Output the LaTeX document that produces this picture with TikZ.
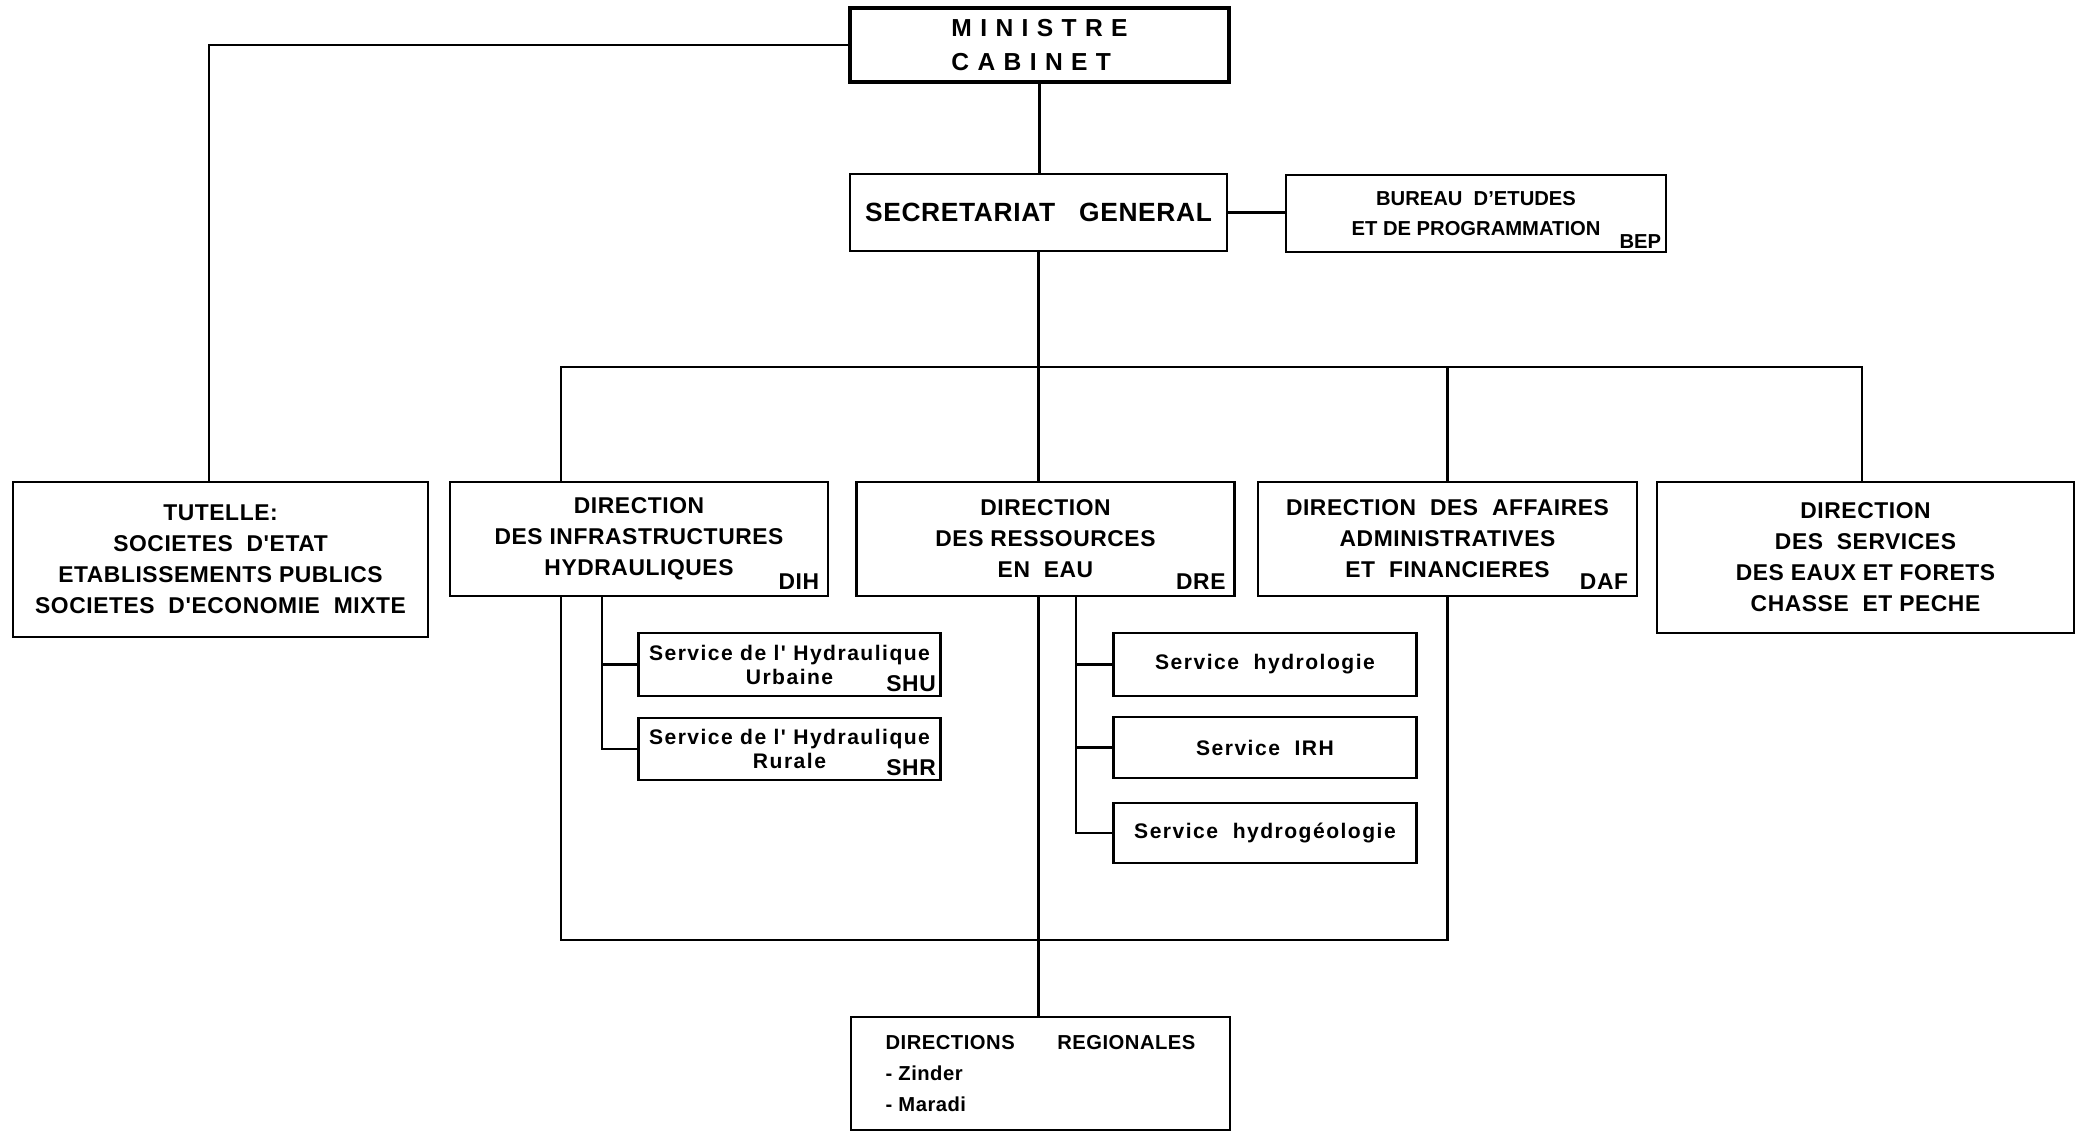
\documentclass[tikz,border=0pt]{standalone}
\usepackage{fontspec}
\setmainfont{Liberation Sans}
\newfontfamily\orgfam[LetterSpace=2.5]{Liberation Sans}
\newfontfamily\svcfam[LetterSpace=7]{Liberation Sans}
\newfontfamily\topfam[LetterSpace=34]{Liberation Sans}
\usetikzlibrary{positioning,calc}

\begin{document}
\begin{tikzpicture}[
  orgbox/.style={draw, line width=1.6pt, inner sep=0pt, align=center,
    font={\orgfam\bfseries\fontsize{13}{17.6}\selectfont}},
  topbox/.style={orgbox, line width=2.6pt, minimum width=7.58cm, minimum height=1.48cm,
    align=left, font={\topfam\bfseries\fontsize{14}{19.8}\selectfont}},
  dirbox/.style={orgbox, minimum width=7.56cm, minimum height=2.28cm},
  svcbox/.style={orgbox, minimum width=6.05cm, minimum height=1.24cm,
    font={\svcfam\bfseries\fontsize{12}{13.6}\selectfont}},
  tag/.style={inner xsep=0.2cm, inner ysep=0.15cm, anchor=south east,
    font={\orgfam\bfseries\fontsize{13}{15}\selectfont}},
  smalltag/.style={tag, inner xsep=0.12cm, inner ysep=0.1cm},
  link/.style={line width=1.6pt, line join=miter},
]
\useasboundingbox (0,0) rectangle (41.58,-22.62);

% ===== Top: minister and secretariat =====
\node[topbox] (mini) at (20.79,-0.90) {MINISTRE\\CABINET};
\node[orgbox, minimum width=7.54cm, minimum height=1.54cm,
  font={\orgfam\bfseries\fontsize{15}{18}\selectfont}] (sg) at (20.77,-4.25)
  {SECRETARIAT~~~GENERAL};
\node[orgbox, minimum width=7.6cm, minimum height=1.54cm,
  font={\bfseries\fontsize{11.5}{17.6}\selectfont}] (bep) at (29.52,-4.27)
  {BUREAU~~D'ETUDES\\ET DE PROGRAMMATION};
\node[smalltag, font={\bfseries\fontsize{11.5}{13}\selectfont}] (bep-tag) at (bep.south east) {BEP};

% ===== Directions =====
\node[orgbox, minimum width=8.3cm, minimum height=3.1cm] (tut) at (4.41,-11.19)
  {TUTELLE:\\SOCIETES~~D'ETAT\\ETABLISSEMENTS PUBLICS\\SOCIETES~~D'ECONOMIE~~MIXTE};
\node[dirbox] (dih) at (12.78,-10.78) {DIRECTION\\DES INFRASTRUCTURES\\HYDRAULIQUES};
\node[dirbox] (dre) at (20.91,-10.78) {DIRECTION\\DES RESSOURCES\\EN~~EAU};
\node[dirbox, minimum width=7.58cm] (daf) at (28.95,-10.78)
  {DIRECTION~~DES~~AFFAIRES\\ADMINISTRATIVES\\ET~~FINANCIERES};
\node[orgbox, minimum width=8.34cm, minimum height=3.02cm] (eaux) at (37.31,-11.15)
  {DIRECTION\\DES~~SERVICES\\DES EAUX ET FORETS\\CHASSE~~ET PECHE};
\node[tag] (dih-tag) at (dih.south east) {DIH};
\node[tag] (dre-tag) at (dre.south east) {DRE};
\node[tag] (daf-tag) at (daf.south east) {DAF};

% ===== Services =====
\node[svcbox, minimum height=1.26cm] (shu) at (15.79,-13.29) {Service de l' Hydraulique\\Urbaine};
\node[svcbox] (shr) at (15.79,-14.98) {Service de l' Hydraulique\\Rurale};
\node[smalltag] (shu-tag) at (shu.south east) {SHU};
\node[smalltag] (shr-tag) at (shr.south east) {SHR};
\node[svcbox, minimum height=1.26cm] (hydl) at (25.30,-13.29) {Service~~hydrologie};
\node[svcbox, minimum height=1.22cm] (irh) at (25.30,-14.95) {Service~~IRH};
\node[svcbox, minimum height=1.2cm] (hydg) at (25.30,-16.66) {Service~~hydrogéologie};

% ===== Regional =====
\node[orgbox, minimum width=7.58cm, minimum height=2.26cm, align=left,
  font={\orgfam\bfseries\fontsize{11.5}{17.6}\selectfont}] (dr) at (20.81,-21.47)
  {DIRECTIONS\hspace{0.85cm}REGIONALES\\- Zinder\\- Maradi};

% ===== Links =====
\coordinate (barW) at (11.22,-7.34);
\coordinate (barE) at (37.24,-7.34);
\coordinate (loopW) at (11.22,-18.8);

\draw[link] (mini.west) -| ([xshift=-0.23cm]tut.north);
\draw[link] (mini.south) -- (mini.south |- sg.north);
\draw[link] (sg.east) -- (sg.east -| bep.west);
\draw[link] (sg.south) -- (sg.south |- dre.north);
\draw[link] (dih.north -| barW) -- (barW) -- (barE) -- (barE |- eaux.north);
\draw[link] (daf.north) -- (daf.north |- barW);
\draw[link] (dih.south -| barW) -- (loopW) -| (daf.south);
\draw[link] (dre.south -| sg.south) -- (sg.south |- dr.north);

\draw[link] ([xshift=-0.74cm]dih.south) |- (shu.west);
\draw[link] ([xshift=-0.74cm]dih.south) |- (shr.west);
\foreach \s in {hydl,irh,hydg}
  \draw[link] ([xshift=0.61cm]dre.south) |- (\s.west);

\end{tikzpicture}
\end{document}
